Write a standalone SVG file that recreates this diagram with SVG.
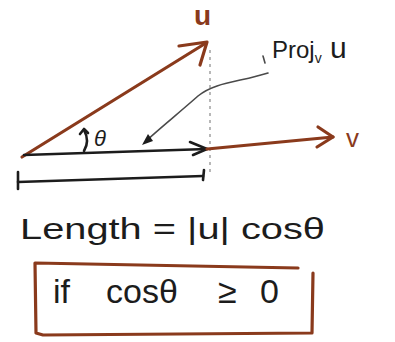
<svg xmlns="http://www.w3.org/2000/svg" width="395" height="342" viewBox="0 0 395 342">
<style>
.br{stroke:#8a3a1c;stroke-width:3.2;fill:none;stroke-linecap:round;stroke-linejoin:round}
.bk{stroke:#1c1c1c;stroke-width:2.6;fill:none;stroke-linecap:round;stroke-linejoin:round}
.gr{stroke:#4a4a4a;stroke-width:1.6;fill:none;stroke-linecap:round}
.t{font-family:"Liberation Sans","DejaVu Sans",sans-serif;fill:#1c1c1c}
.tb{font-family:"Liberation Sans","DejaVu Sans",sans-serif;fill:#8a3a1c}
</style>
<rect width="395" height="342" fill="#ffffff"/>
<!-- dotted projection line -->
<line x1="210" y1="50" x2="210" y2="172" stroke="#9a9a9a" stroke-width="1.4" stroke-dasharray="3,4"/>
<!-- vector u -->
<g id="u">
<path class="br" d="M22 157 L206 43"/>
<path class="br" d="M179 46 L207 42 L200 65"/>
<text class="tb" x="194" y="25" font-size="28" font-weight="bold">u</text>
</g>
<!-- projection (black) -->
<g id="proj">
<path class="bk" d="M24 155 L207 149"/>
<path class="bk" d="M190 142 L207 149 L193 155"/>
</g>
<!-- vector v -->
<g id="v">
<path class="br" d="M207 149 L333 137"/>
<path class="br" d="M318 127 L333 137 L317 147"/>
<text class="tb" x="346" y="147" font-size="26">v</text>
</g>
<!-- angle -->
<g id="theta">
<path class="bk" stroke-width="1.8" d="M84 151 Q90 141 84 130"/>
<path class="bk" stroke-width="1.8" d="M80 134 L84 129 L88 133"/>
<text class="t" x="94" y="146" font-size="22" font-style="italic">θ</text>
</g>
<!-- proj label and pointer -->
<g id="projlabel">
<path class="gr" d="M263 56 L265 63"/>
<text class="t" x="272" y="58" font-size="24">Proj<tspan font-size="14" dy="5">v</tspan><tspan dy="-5" font-size="30"> u</tspan></text>
<path class="gr" d="M268 73 C240 82 215 82 198 96 C180 112 160 128 146 141"/>
<path d="M142 145 L148 134 L153 141 Z" fill="#1c1c1c"/>
</g>
<!-- length bar -->
<g id="lengthbar">
<path class="bk" stroke-width="2.4" d="M18 182 L203 176"/>
<path class="bk" stroke-width="2" d="M18 172 L18 189"/>
<path class="bk" stroke-width="2" d="M204 170 L203 180"/>
</g>
<text class="t" x="20" y="239" font-size="30" textLength="305" lengthAdjust="spacingAndGlyphs">Length = |u| cosθ</text>
<!-- box -->
<g id="box">
<path class="br" stroke-width="2.6" d="M35 263 L298 268 M313 273 L312 333 L43 335 L36 333 L35 263"/>
<text class="t" y="303" font-size="34"><tspan x="53">if</tspan><tspan x="106">cosθ</tspan><tspan x="218">≥</tspan><tspan x="260">0</tspan></text>
</g>
</svg>
